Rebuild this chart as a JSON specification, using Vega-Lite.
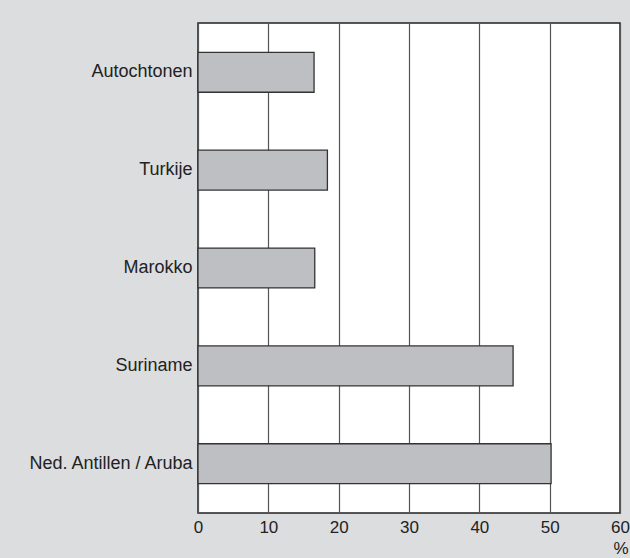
{
  "$schema": "https://vega.github.io/schema/vega-lite/v6.json",
  "autosize": {"type": "none"},
  "width": 422,
  "height": 490,
  "padding": {"left": 198, "top": 23, "right": 10, "bottom": 45},
  "background": "#dcdddf",
  "config": {
    "view": {"fill": "white", "stroke": "#222222", "strokeWidth": 1.5},
    "font": "Liberation Sans"
  },
  "data": {
    "values": [
      {"groep": "Autochtonen", "pct": 16.5},
      {"groep": "Turkije", "pct": 18.4},
      {"groep": "Marokko", "pct": 16.6},
      {"groep": "Suriname", "pct": 44.8},
      {"groep": "Ned. Antillen / Aruba", "pct": 50.2}
    ]
  },
  "mark": {"type": "bar", "fill": "#bebfc2", "stroke": "#333333", "strokeWidth": 1.3},
  "encoding": {
    "y": {
      "field": "groep",
      "type": "nominal",
      "sort": null,
      "scale": {"paddingInner": 0.592, "paddingOuter": 0.3},
      "axis": {
        "title": null,
        "ticks": false,
        "domain": false,
        "labelFontSize": 18,
        "labelColor": "#222222",
        "labelPadding": 6,
        "labelFont": "Liberation Sans"
      }
    },
    "x": {
      "field": "pct",
      "type": "quantitative",
      "scale": {"domain": [0, 60], "nice": false},
      "axis": {
        "values": [0, 10, 20, 30, 40, 50, 60],
        "title": "%",
        "titleFontSize": 17,
        "titleFontWeight": "normal",
        "titleColor": "#222222",
        "titleAnchor": "end",
        "titleAlign": "right",
        "titleX": 430,
        "titleY": 40,
        "titleBaseline": "alphabetic",
        "ticks": false,
        "domain": false,
        "grid": true,
        "gridColor": "#555555",
        "gridWidth": 1.2,
        "labelFontSize": 17,
        "labelColor": "#222222",
        "labelPadding": 6,
        "labelFlush": false
      }
    }
  }
}
